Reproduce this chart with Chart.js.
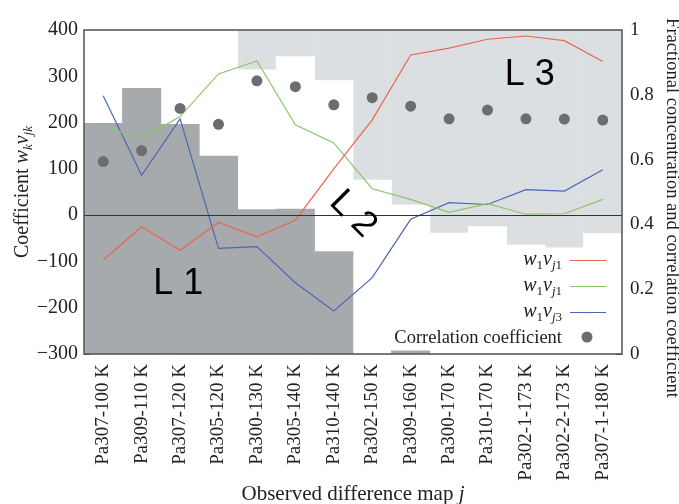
<!DOCTYPE html>
<html>
<head>
<meta charset="utf-8">
<script src="https://cdn.jsdelivr.net/npm/chart.js@4/dist/chart.umd.min.js"></script>
<style>
html,body{margin:0;padding:0;background:#fff;}
#wrap{width:679px;height:504px;position:relative;}
</style>
</head>
<body>
<div id="wrap"><canvas id="c"></canvas></div>
<script>
// ---- data ----
const categories = ['Pa307-100 K','Pa309-110 K','Pa307-120 K','Pa305-120 K','Pa300-130 K','Pa305-140 K','Pa310-140 K','Pa302-150 K','Pa309-160 K','Pa300-170 K','Pa310-170 K','Pa302-1-173 K','Pa302-2-173 K','Pa307-1-180 K'];
const fracL1 = [0.712, 0.820, 0.709, 0.611, 0.446, 0.447, 0.316, 0.000, 0.010, 0.000, 0.000, 0.000, 0.000, 0.000];
const fracL2 = [0.288, 0.180, 0.291, 0.389, 0.431, 0.471, 0.528, 0.537, 0.450, 0.373, 0.393, 0.336, 0.328, 0.372];
const fracL3 = [0.000, 0.000, 0.000, 0.000, 0.123, 0.082, 0.156, 0.463, 0.540, 0.627, 0.607, 0.664, 0.672, 0.628];
const w1vj1 = [-97, -25, -76, -16, -47, -11, 100, 206, 346, 361, 380, 387, 377, 332];
const w1vj2 = [193, 165, 213, 305, 333, 195, 156, 57, 34, 6, 25, 2, 3, 34];
const w1vj3 = [258, 86, 208, -72, -68, -146, -207, -135, -9, 27, 23, 55, 52, 98];
const correlation = [0.594, 0.628, 0.758, 0.709, 0.843, 0.825, 0.769, 0.791, 0.765, 0.726, 0.753, 0.726, 0.725, 0.722];
const leftTicks = [-300, -200, -100, 0, 100, 200, 300, 400];
const rightTicks = [0, 0.2, 0.4, 0.6, 0.8, 1];
const rightTickLabels = ['0', '0.2', '0.4', '0.6', '0.8', '1'];
const regionLabels = ['L 1', 'L 2', 'L 3'];
const legendCorrLabel = 'Correlation coefficient';
const xTitle = 'Observed difference map ';
const yTitle = 'Coefficient ';
const y2Title = 'Fractional concentration and correlation coefficient';

const SERIF = '"Liberation Serif", "DejaVu Serif", serif';
const SANS = '"Liberation Sans", Arial, sans-serif';
const RED = '#e8674f', GREEN = '#8bc66e', BLUE = '#4c68b4', DOT = '#6b6d6f';
const DARK = '#a7aaac', LIGHT = '#dcdfe2', FRAME = '#505050';

function drawRich(ctx, parts, x, y, align) {
  let total = 0;
  parts.forEach(p => { ctx.font = p.f; p.w = ctx.measureText(p.t).width; total += p.w; });
  let cx = align === 'right' ? x - total : (align === 'center' ? x - total / 2 : x);
  parts.forEach(p => { ctx.font = p.f; ctx.fillText(p.t, cx, y + (p.dy || 0)); cx += p.w; });
}

const deco = {
  id: 'deco',
  beforeDatasetsDraw(chart) {
    const {ctx, chartArea: a, scales: {x, y, y2}} = chart;
    ctx.save();
    ctx.strokeStyle = FRAME; ctx.lineWidth = 1;
    ctx.beginPath();
    categories.forEach((c, i) => {
      const px = Math.round(x.getPixelForValue(i)) + 0.5;
      ctx.moveTo(px, a.top); ctx.lineTo(px, a.top + 6);
      ctx.moveTo(px, a.bottom); ctx.lineTo(px, a.bottom - 6);
    });
    leftTicks.forEach(v => { const py = Math.round(y.getPixelForValue(v)) + 0.5; ctx.moveTo(a.left, py); ctx.lineTo(a.left + 6, py); });
    rightTicks.forEach(v => { const py = Math.round(y2.getPixelForValue(v)) + 0.5; ctx.moveTo(a.right, py); ctx.lineTo(a.right - 6, py); });
    ctx.stroke();
    ctx.restore();
  },
  afterDatasetsDraw(chart) {
    const {ctx, chartArea: a, scales: {x, y, y2}} = chart;
    ctx.save();
    // zero line
    const zy = Math.round(y.getPixelForValue(0)) + 0.5;
    ctx.strokeStyle = '#333'; ctx.lineWidth = 1;
    ctx.beginPath(); ctx.moveTo(a.left, zy); ctx.lineTo(a.right, zy); ctx.stroke();
    // frame
    ctx.strokeStyle = FRAME; ctx.lineWidth = 1.5;
    ctx.strokeRect(a.left, a.top, a.right - a.left, a.bottom - a.top);

    // region labels
    ctx.fillStyle = '#000';
    ctx.font = '36px ' + SANS;
    ctx.textAlign = 'center'; ctx.textBaseline = 'middle';
    ctx.fillText(regionLabels[0], x.getPixelForValue(1.95), y.getPixelForValue(-148));
    ctx.fillText(regionLabels[2], x.getPixelForValue(11.1), y.getPixelForValue(303));
    ctx.save();
    ctx.translate(x.getPixelForValue(6.5), y.getPixelForValue(2));
    ctx.rotate(Math.PI / 4);
    ctx.fillText(regionLabels[1], 0, 0);
    ctx.restore();

    // legend
    ctx.textAlign = 'left'; ctx.textBaseline = 'alphabetic';
    ctx.fillStyle = '#222';
    const tx = 562, lx0 = 570, lx1 = 606;
    const rows = [
      {sub: '1', col: RED, yy: 260},
      {sub: '1', col: GREEN, yy: 286},
      {sub: '3', col: BLUE, yy: 312}
    ];
    rows.forEach(r => {
      drawRich(ctx, [
        {t: 'w', f: 'italic 20px ' + SERIF},
        {t: '1', f: '13px ' + SERIF, dy: 4},
        {t: 'v', f: 'italic 20px ' + SERIF},
        {t: 'j', f: 'italic 13px ' + SERIF, dy: 4},
        {t: r.sub, f: '13px ' + SERIF, dy: 4}
      ], tx, r.yy + 5, 'right');
      ctx.strokeStyle = r.col; ctx.lineWidth = 1.2;
      ctx.beginPath(); ctx.moveTo(lx0, r.yy + 0.5); ctx.lineTo(lx1, r.yy + 0.5); ctx.stroke();
    });
    ctx.font = '18.5px ' + SERIF;
    ctx.textAlign = 'right';
    ctx.fillText(legendCorrLabel, tx, 343);
    ctx.fillStyle = DOT;
    ctx.beginPath(); ctx.arc(587, 337, 5.5, 0, Math.PI * 2); ctx.fill();

    // axis titles
    ctx.fillStyle = '#222';
    ctx.textAlign = 'left';
    drawRich(ctx, [
      {t: xTitle, f: '21px ' + SERIF},
      {t: 'j', f: 'italic 21px ' + SERIF}
    ], (a.left + a.right) / 2, 500, 'center');
    ctx.save();
    ctx.translate(28, (a.top + a.bottom) / 2);
    ctx.rotate(-Math.PI / 2);
    drawRich(ctx, [
      {t: yTitle, f: '20px ' + SERIF},
      {t: 'w', f: 'italic 20px ' + SERIF},
      {t: 'k', f: 'italic 13px ' + SERIF, dy: 4},
      {t: 'v', f: 'italic 20px ' + SERIF},
      {t: 'jk', f: 'italic 13px ' + SERIF, dy: 4}
    ], 0, 0, 'center');
    ctx.restore();
    ctx.save();
    ctx.translate(667, 208);
    ctx.rotate(Math.PI / 2);
    ctx.font = '18.5px ' + SERIF;
    ctx.textAlign = 'center';
    ctx.fillText(y2Title, 0, 0);
    ctx.restore();

    ctx.restore();
  }
};

new Chart(document.getElementById('c'), {
  data: {
    labels: categories,
    datasets: [
      {type: 'line', label: 'w1vj1', data: w1vj1, yAxisID: 'y', borderColor: RED, borderWidth: 1.2, pointRadius: 0, tension: 0, fill: false, order: 1},
      {type: 'line', label: 'w1vj1 ', data: w1vj2, yAxisID: 'y', borderColor: GREEN, borderWidth: 1.2, pointRadius: 0, tension: 0, fill: false, order: 1},
      {type: 'line', label: 'w1vj3', data: w1vj3, yAxisID: 'y', borderColor: BLUE, borderWidth: 1.2, pointRadius: 0, tension: 0, fill: false, order: 1},
      {type: 'line', label: legendCorrLabel, data: correlation, yAxisID: 'y2', stack: 'corr', showLine: false, pointRadius: 5.5, pointHoverRadius: 5.5, pointBackgroundColor: DOT, pointBorderWidth: 0, borderColor: DOT, order: 0},
      {type: 'bar', label: 'L1', data: fracL1, yAxisID: 'y2', stack: 'frac', backgroundColor: DARK, borderWidth: 0, categoryPercentage: 1, barPercentage: 1, order: 5},
      {type: 'bar', label: 'L2', data: fracL2, yAxisID: 'y2', stack: 'frac', backgroundColor: '#ffffff', borderWidth: 0, categoryPercentage: 1, barPercentage: 1, order: 5},
      {type: 'bar', label: 'L3', data: fracL3, yAxisID: 'y2', stack: 'frac', backgroundColor: LIGHT, borderWidth: 0, categoryPercentage: 1, barPercentage: 1, order: 5}
    ]
  },
  options: {
    responsive: true,
    maintainAspectRatio: false,
    animation: false,
    layout: {padding: {top: 30, left: 0, right: 0, bottom: 0}},
    plugins: {legend: {display: false}, tooltip: {enabled: false}},
    scales: {
      x: {
        type: 'category', stacked: true, offset: true,
        grid: {display: false, drawTicks: false}, border: {display: false},
        ticks: {color: '#222', font: {family: SERIF, size: 19}, minRotation: 90, maxRotation: 90, padding: 10, autoSkip: false},
        afterFit(s) { s.height = 150; }
      },
      y: {
        position: 'left', min: -300, max: 400,
        grid: {display: false, drawTicks: false}, border: {display: false},
        afterBuildTicks(s) { s.ticks = leftTicks.map(v => ({value: v})); },
        ticks: {color: '#222', font: {family: SERIF, size: 20}, padding: 6,
          callback: v => String(v).replace('-', '\u2212')},
        afterFit(s) { s.width = 84; }
      },
      y2: {
        position: 'right', min: 0, max: 1, stacked: true,
        grid: {display: false, drawTicks: false}, border: {display: false},
        afterBuildTicks(s) { s.ticks = rightTicks.map(v => ({value: v})); },
        ticks: {color: '#222', font: {family: SERIF, size: 19}, padding: 8,
          callback: (v, i) => rightTickLabels[i]},
        afterFit(s) { s.width = 57; }
      }
    }
  },
  plugins: [deco]
});
</script>
</body>
</html>
